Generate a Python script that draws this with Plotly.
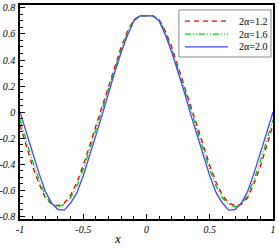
import plotly.graph_objects as go

x_vals = [-1.0, -0.95, -0.9, -0.85, -0.8, -0.75, -0.7, -0.65, -0.6, -0.55, -0.5, -0.45, -0.4, -0.35, -0.3,
          -0.25, -0.2, -0.15, -0.1, -0.05, 0.0, 0.05, 0.1, 0.15, 0.2, 0.25, 0.3, 0.35, 0.4, 0.45, 0.5,
          0.55, 0.6, 0.65, 0.7, 0.75, 0.8, 0.85, 0.9, 0.95, 1.0]

y_12 = [-0.10, -0.26, -0.42, -0.55, -0.66, -0.71, -0.72, -0.70, -0.64, -0.54, -0.41, -0.26, -0.11, 0.05, 0.20,
        0.35, 0.50, 0.62, 0.71, 0.74, 0.74, 0.74, 0.71, 0.62, 0.50, 0.35, 0.20, 0.05, -0.11, -0.26, -0.41,
        -0.54, -0.64, -0.70, -0.72, -0.71, -0.66, -0.55, -0.42, -0.26, -0.10]

y_16 = [-0.06, -0.22, -0.38, -0.52, -0.64, -0.71, -0.73, -0.71, -0.66, -0.57, -0.44, -0.29, -0.14, 0.02, 0.18,
        0.33, 0.48, 0.61, 0.71, 0.74, 0.74, 0.74, 0.71, 0.61, 0.48, 0.33, 0.18, 0.02, -0.14, -0.29, -0.44,
        -0.57, -0.66, -0.71, -0.73, -0.71, -0.64, -0.52, -0.38, -0.22, -0.06]

y_20 = [0.00, -0.16, -0.32, -0.47, -0.61, -0.70, -0.75, -0.755, -0.70, -0.62, -0.49, -0.34, -0.18, -0.02, 0.15,
        0.31, 0.46, 0.59, 0.70, 0.74, 0.74, 0.74, 0.70, 0.59, 0.46, 0.31, 0.15, -0.02, -0.18, -0.34, -0.49,
        -0.62, -0.70, -0.755, -0.75, -0.70, -0.61, -0.47, -0.32, -0.16, 0.00]

series_names = ["2\u03b1=1.2", "2\u03b1=1.6", "2\u03b1=2.0"]

x_ticks = [-1, -0.5, 0, 0.5, 1]
x_ticktext = ["-1", "-0.5", "0", "0.5", "1"]
y_ticks = [-0.8, -0.6, -0.4, -0.2, 0, 0.2, 0.4, 0.6, 0.8]
y_ticktext = ["-0.8", "-0.6", "-0.4", "-0.2", "0", "0.2", "0.4", "0.6", "0.8"]

serif = "Liberation Serif"
colors = ["#DD0000", "#00CC00", "#4444FF"]
dashes = ["5px,4px", "6px,2px,1px,2px,1px,2px", "solid"]
series_y = [y_12, y_16, y_20]

fig = go.Figure()
for name, ys, c, d in zip(series_names, series_y, colors, dashes):
    fig.add_trace(go.Scatter(x=x_vals, y=ys, mode="lines", name=name, showlegend=False,
                             line=dict(color=c, width=1.3, dash=d)))

axis_common = dict(showgrid=False, zeroline=False, showline=True, linecolor="black",
                   linewidth=1.5, mirror=True, ticks="inside", tickcolor="black", automargin=False,
                   tickfont=dict(family=serif, size=10, color="black", style="italic"))

fig.update_xaxes(range=[-1, 1], tickvals=x_ticks, ticktext=x_ticktext, ticklen=5, tickwidth=1,
                 minor=dict(dtick=0.1, ticks="inside", ticklen=3, tickcolor="black", tickwidth=1),
                 **axis_common)
fig.update_yaxes(range=[-0.823, 0.823], tickvals=y_ticks, ticktext=y_ticktext, ticklen=5, tickwidth=1,
                 ticklabelstandoff=1,
                 minor=dict(dtick=0.05, ticks="inside", ticklen=3, tickcolor="black", tickwidth=1),
                 **axis_common)

fig.add_annotation(text="x", xref="paper", yref="paper", x=0.387, y=-0.093,
                   showarrow=False, xanchor="center", yanchor="middle",
                   font=dict(family=serif, size=13, color="black", style="italic"))

# compact legend (box, sample lines, labels) in paper coordinates
fig.add_shape(type="rect", xref="paper", yref="paper", x0=0.628, x1=0.992, y0=0.757, y1=0.977,
              line=dict(color="#888888", width=1), fillcolor="white", layer="above")
row_y = [0.925, 0.864, 0.804]
for name, c, d, ry in zip(series_names, colors, dashes, row_y):
    fig.add_shape(type="line", xref="paper", yref="paper", x0=0.652, x1=0.822, y0=ry, y1=ry,
                  line=dict(color=c, width=1.3, dash=d), layer="above")
    fig.add_annotation(text=name, xref="paper", yref="paper", x=0.858, y=ry,
                       xanchor="left", yanchor="middle", showarrow=False,
                       font=dict(family=serif, size=10, color="black"))

fig.update_layout(
    width=279, height=248,
    margin=dict(l=20, r=6, t=5, b=29, autoexpand=False),
    paper_bgcolor="white", plot_bgcolor="white",
    showlegend=False,
)

fig.write_html("out.html", config={"displayModeBar": False},
               post_script="document.body.style.margin='0';document.body.style.padding='0';")
